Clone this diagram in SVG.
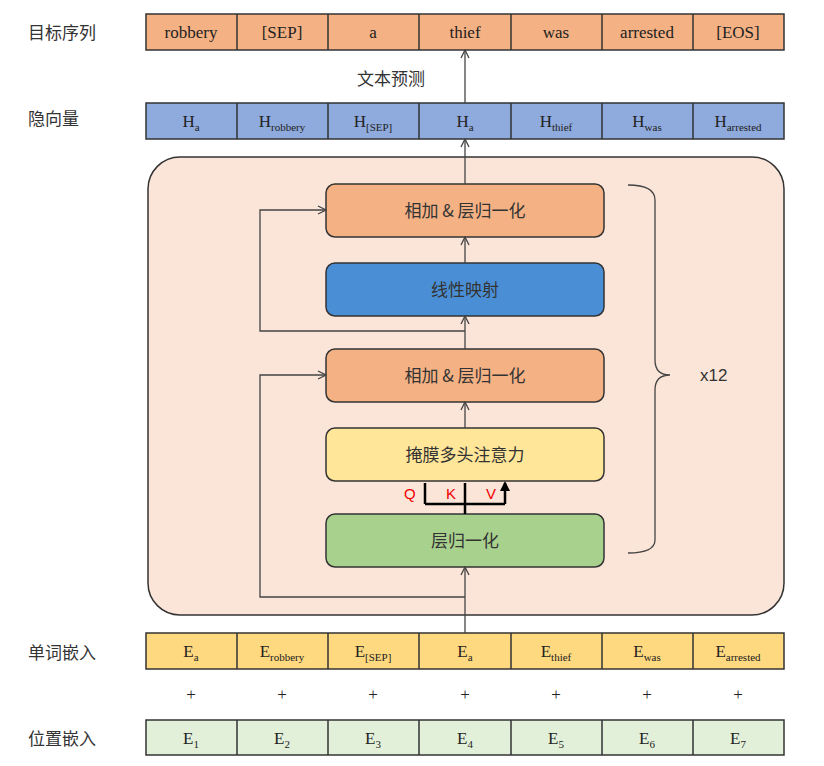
<svg xmlns="http://www.w3.org/2000/svg" width="824" height="766" viewBox="0 0 824 766">
<style>
.lbl{font-family:"Noto Sans CJK SC","Noto Sans",sans-serif;font-size:17px;fill:#333}
.cell{stroke:#333;stroke-width:1.5}
.tk{font-family:"Liberation Serif",serif;font-size:17px;fill:#222;text-anchor:middle}
.sub{font-size:11px}
.box{stroke:#333;stroke-width:1.5}
.bt{font-family:"Noto Sans CJK SC",sans-serif;font-size:17px;fill:#333;text-anchor:middle}
.ln{stroke:#444;stroke-width:1.3;fill:none}
</style>
<defs>
<marker id="a" markerWidth="10" markerHeight="10" refX="9" refY="5" orient="auto" markerUnits="userSpaceOnUse"><path d="M1,1 L9,5 L1,9" fill="none" stroke="#444" stroke-width="1.3"/></marker>
<marker id="b" markerWidth="10" markerHeight="10" refX="8" refY="5" orient="auto" markerUnits="userSpaceOnUse"><path d="M0,0 L10,5 L0,10 Z" fill="#000"/></marker>
</defs>
<rect width="824" height="766" fill="#fff"/>
<g id="labels">
<text class="lbl" x="28" y="39">目标序列</text>
<text class="lbl" x="28" y="125">隐向量</text>
<text class="lbl" x="28" y="659">单词嵌入</text>
<text class="lbl" x="28" y="745">位置嵌入</text>
<text class="lbl" x="357" y="85">文本预测</text>
</g>
<g id="panel"><rect x="148" y="157" width="636" height="458" rx="32" fill="#fbe5d9" stroke="#333" stroke-width="1.5"/></g>
<g id="target">
<rect class="cell" x="146" y="14" width="638" height="36" fill="#f4b183"/>
<path class="cell" d="M237,14v36M328,14v36M419,14v36M511,14v36M602,14v36M693,14v36"/>
<text class="tk" y="38"><tspan x="191">robbery</tspan><tspan x="282">[SEP]</tspan><tspan x="373">a</tspan><tspan x="465">thief</tspan><tspan x="556">was</tspan><tspan x="647">arrested</tspan><tspan x="738">[EOS]</tspan></text>
</g>
<g id="hidden">
<rect class="cell" x="146" y="103" width="638" height="36" fill="#8faadc"/>
<path class="cell" d="M237,103v36M328,103v36M419,103v36M511,103v36M602,103v36M693,103v36"/>
<text class="tk" y="127"><tspan x="191">H<tspan class="sub" dy="4">a</tspan></tspan></text>
<text class="tk" y="127"><tspan x="282">H<tspan class="sub" dy="4">robbery</tspan></tspan></text>
<text class="tk" y="127"><tspan x="373">H<tspan class="sub" dy="4">[SEP]</tspan></tspan></text>
<text class="tk" y="127"><tspan x="465">H<tspan class="sub" dy="4">a</tspan></tspan></text>
<text class="tk" y="127"><tspan x="556">H<tspan class="sub" dy="4">thief</tspan></tspan></text>
<text class="tk" y="127"><tspan x="647">H<tspan class="sub" dy="4">was</tspan></tspan></text>
<text class="tk" y="127"><tspan x="738">H<tspan class="sub" dy="4">arrested</tspan></tspan></text>
</g>
<g id="add2"><rect class="box" x="326" y="184" width="278" height="53" rx="9" fill="#f4b183"/><text class="bt" x="465" y="217">相加 &amp; 层归一化</text></g>
<g id="linear"><rect class="box" x="326" y="263" width="278" height="53" rx="9" fill="#4a8fd6"/><text class="bt" x="465" y="296">线性映射</text></g>
<g id="add1"><rect class="box" x="326" y="349" width="278" height="53" rx="9" fill="#f4b183"/><text class="bt" x="465" y="382">相加 &amp; 层归一化</text></g>
<g id="attn"><rect class="box" x="326" y="428" width="278" height="53" rx="9" fill="#ffe699"/><text class="bt" x="465" y="461">掩膜多头注意力</text></g>
<g id="ln"><rect class="box" x="326" y="514" width="278" height="53" rx="9" fill="#a9d18e"/><text class="bt" x="465" y="547">层归一化</text></g>
<g id="bracket">
<path class="ln" d="M628,185 Q655,185 655,200 V360 Q655,375 670,375 Q655,375 655,390 V540 Q655,553 628,553"/>
<text x="700" y="381" font-family="Liberation Sans,sans-serif" font-size="17" fill="#333">x12</text>
</g>
<g id="embed">
<rect class="cell" x="146" y="633" width="638" height="36" fill="#ffd97f"/>
<path class="cell" d="M237,633v36M328,633v36M419,633v36M511,633v36M602,633v36M693,633v36"/>
<text class="tk" y="657"><tspan x="191">E<tspan class="sub" dy="4">a</tspan></tspan></text>
<text class="tk" y="657"><tspan x="282">E<tspan class="sub" dy="4">robbery</tspan></tspan></text>
<text class="tk" y="657"><tspan x="373">E<tspan class="sub" dy="4">[SEP]</tspan></tspan></text>
<text class="tk" y="657"><tspan x="465">E<tspan class="sub" dy="4">a</tspan></tspan></text>
<text class="tk" y="657"><tspan x="556">E<tspan class="sub" dy="4">thief</tspan></tspan></text>
<text class="tk" y="657"><tspan x="647">E<tspan class="sub" dy="4">was</tspan></tspan></text>
<text class="tk" y="657"><tspan x="738">E<tspan class="sub" dy="4">arrested</tspan></tspan></text>
<text class="tk" y="700" fill="#666"><tspan x="191">+</tspan><tspan x="282">+</tspan><tspan x="373">+</tspan><tspan x="465">+</tspan><tspan x="556">+</tspan><tspan x="647">+</tspan><tspan x="738">+</tspan></text>
</g>
<g id="pos">
<rect class="cell" x="146" y="720" width="638" height="35" fill="#e2f0d9"/>
<path class="cell" d="M237,720v35M328,720v35M419,720v35M511,720v35M602,720v35M693,720v35"/>
<text class="tk" y="744"><tspan x="191">E<tspan class="sub" dy="4">1</tspan></tspan></text>
<text class="tk" y="744"><tspan x="282">E<tspan class="sub" dy="4">2</tspan></tspan></text>
<text class="tk" y="744"><tspan x="373">E<tspan class="sub" dy="4">3</tspan></tspan></text>
<text class="tk" y="744"><tspan x="465">E<tspan class="sub" dy="4">4</tspan></tspan></text>
<text class="tk" y="744"><tspan x="556">E<tspan class="sub" dy="4">5</tspan></tspan></text>
<text class="tk" y="744"><tspan x="647">E<tspan class="sub" dy="4">6</tspan></tspan></text>
<text class="tk" y="744"><tspan x="738">E<tspan class="sub" dy="4">7</tspan></tspan></text>
</g>
<g id="connectors">
<path class="ln" d="M465,633 V567" marker-end="url(#a)"/>
<path class="ln" d="M465,597 H260 V375 H326" marker-end="url(#a)"/>
<path class="ln" d="M465,428 V402" marker-end="url(#a)"/>
<path class="ln" d="M465,349 V316" marker-end="url(#a)"/>
<path class="ln" d="M465,331 H260 V210 H326" marker-end="url(#a)"/>
<path class="ln" d="M465,263 V237" marker-end="url(#a)"/>
<path class="ln" d="M465,184 V139" marker-end="url(#a)"/>
<path class="ln" d="M465,103 V50" marker-end="url(#a)"/>
<path d="M465,514 V504 M425,504 H505" stroke="#000" stroke-width="2.5" fill="none"/>
<path d="M425,504 V483 M465,504 V483 M505,504 V483" stroke="#000" stroke-width="2.5" fill="none" marker-end="url(#b)"/>
<g font-family="Liberation Sans,sans-serif" font-size="15" fill="#e00">
<text x="404" y="499">Q</text><text x="446" y="499">K</text><text x="486" y="499">V</text></g>
</g>
</svg>
